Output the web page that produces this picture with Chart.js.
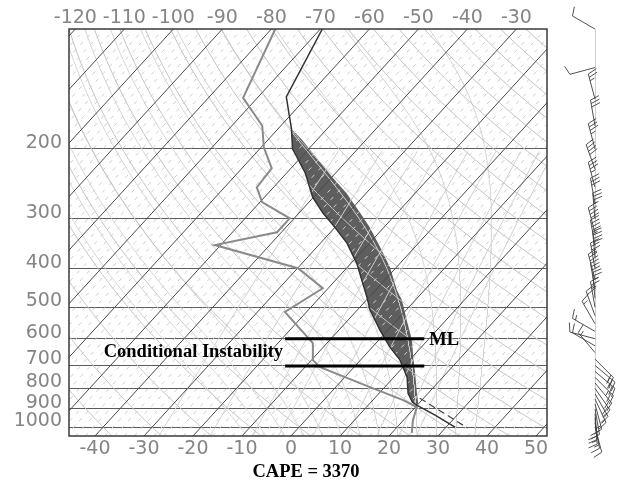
<!DOCTYPE html>
<html>
<head>
<meta charset="utf-8">
<title>Skew-T CAPE</title>
<script src="https://cdn.jsdelivr.net/npm/chart.js@4.4.1/dist/chart.umd.min.js"></script>
<style>
  body { margin: 0; background: #fff; }
  #box { width: 619px; height: 482px; }
</style>
</head>
<body>
<div id="box"><canvas id="skewt" width="619" height="482"></canvas></div>
<script>
// sounding (hPa, deg C)
const tempP = [100, 148, 178, 200, 230, 265, 290, 315, 345, 388, 428, 472, 508, 571, 630, 679, 749, 822, 865, 881, 933, 1000];
const tempT = [-69.6, -64.3, -57.3, -53.3, -46.2, -40.1, -35.1, -30.0, -24.6, -18.8, -14.6, -10.4, -7.4, -1.6, 3.6, 8.1, 12.7, 15.9, 18.4, 19.9, 25.5, 31.8];
const dewP = [100, 149, 175, 198, 224, 250, 272, 299, 324, 349, 399, 448, 514, 615, 679, 707, 794, 856, 891, 960, 1035];
const dewT = [-79.2, -72.9, -63.8, -59.5, -53.9, -53.4, -49.6, -40.9, -40.9, -51.2, -29.9, -21.1, -24.4, -12.9, -9.7, -6.9, 7.0, 16.2, 20.3, 21.9, 24.1];

// lifted parcel: moist part (EL -> LFC) and dry part (LCL -> surface)
const parcelP = [178, 190, 204, 216, 236, 259, 290, 315, 353, 397, 453, 480, 539, 605, 667, 732, 822, 870];
const parcelT = [-57.3, -53.0, -48.7, -45.2, -39.8, -33.9, -27.5, -22.9, -17.1, -11.3, -5.6, -2.7, 2.0, 6.8, 10.2, 13.6, 17.7, 19.8];
const parcelDryP = [846, 1006];
const parcelDryT = [19.2, 34.6];

// axis ticks
const pressTicks = [200, 300, 400, 500, 600, 700, 800, 900, 1000];
const bottomTicks = [-40, -30, -20, -10, 0, 10, 20, 30, 40, 50];
const topTicks = [-120, -110, -100, -90, -80, -70, -60, -50, -40, -30];

// background lines of the diagram
const isotherms = [-120, -110, -100, -90, -80, -70, -60, -50, -40, -30, -20, -10, 0, 10, 20, 30, 40, 50];
const dryAdiabats = [-40, -30, -20, -10, 0, 10, 20, 30, 40, 50, 60, 70, 80, 90, 100, 110, 120, 130, 140, 150, 160, 170, 180, 190, 200];
const moistAdiabats = [-12, -8, -4, 0, 4, 8, 12, 16, 20, 24, 28, 32, 36];
const mixRatios = [0.4, 1, 2, 3, 5, 8, 12, 16, 20];

// marked layer (hPa) and its horizontal extent on the bottom scale
const layerP = [600, 702];
const layerX = [-1.2, 27.2];

// winds: pressure, direction (deg), speed (kt)
const windP = [100, 125, 150, 175, 200, 225, 250, 275, 300, 325, 350, 375, 400, 425, 450, 475, 500, 525, 550, 575, 600, 625, 650, 675, 700, 725, 750, 775, 800, 825, 850, 875, 900, 925, 950, 975, 1000];
const windDir = [300, 255, 345, 350, 345, 340, 345, 350, 355, 345, 350, 355, 350, 345, 350, 355, 350, 340, 330, 300, 285, 300, 320, 135, 130, 130, 135, 140, 145, 150, 155, 165, 170, 175, 175, 170, 165];
const windSpd = [10, 10, 25, 30, 35, 40, 35, 30, 35, 40, 45, 40, 35, 30, 30, 25, 25, 20, 15, 15, 10, 10, 15, 20, 25, 25, 25, 20, 20, 15, 15, 15, 20, 20, 15, 15, 10];

const PTOP = 100, PBOT = 1053;
const SKEW = 76 / Math.log(PBOT / PTOP);
const XMIN = -45.3, XMAX = 52.24;

const skx = (t, p) => t + SKEW * Math.log(PBOT / p);
const toPts = (ts, ps) => ts.map((t, i) => ({x: skx(t, ps[i]), y: ps[i]}));

// sample levels for curved background lines
const levels = [];
for (let p = PBOT; p > PTOP; p -= 10) levels.push(p);
levels.push(PTOP);

function satMix(tc, p) {
  const es = 6.112 * Math.exp(17.67 * tc / (tc + 243.5));
  return 0.622 * es / (p - es);
}
function moistRate(tk, p) {
  const rs = satMix(tk - 273.15, p);
  return (287 * tk + 2.5e6 * rs) / (1005 + 2.5e6 * 2.5e6 * rs * 0.622 / (287 * tk * tk));
}
function moistLine(thw) {
  const up = [], down = [];
  let t = thw + 273.15, p = 1000;
  up.push({p, t});
  while (p > PTOP) {
    const pn = Math.max(p - 5, PTOP);
    const k1 = moistRate(t, p);
    const tm = t + k1 * Math.log(pn / p) / 2;
    const k2 = moistRate(tm, Math.sqrt(p * pn));
    t += k2 * Math.log(pn / p);
    p = pn;
    up.push({p, t});
  }
  t = thw + 273.15; p = 1000;
  while (p < PBOT) {
    const pn = Math.min(p + 5, PBOT);
    t += moistRate(t, p) * Math.log(pn / p);
    p = pn;
    down.unshift({p, t});
  }
  return down.concat(up).map(o => ({x: skx(o.t - 273.15, o.p), y: o.p}));
}

function bgLine(data, color, width, dash) {
  return {data, borderColor: color, borderWidth: width, borderDash: dash || [],
          pointRadius: 0, fill: false, tension: 0, order: 10};
}
const straight = t => [{x: skx(t, PBOT), y: PBOT}, {x: skx(t, PTOP), y: PTOP}];

const background = [];
isotherms.forEach(t => background.push(bgLine(straight(t), '#4a4a4a', 1)));
// thin dashed isotherms every 2 degrees between the solid ones
isotherms.slice(0, -1).forEach(t => [2, 4, 6, 8].forEach(k =>
  background.push(bgLine(straight(t + k), '#cdcdcd', 1, [4, 6]))));
dryAdiabats.forEach(th => background.push(bgLine(levels.map(p => ({x: skx((th + 273.15) * Math.pow(p / 1000, 0.2857) - 273.15, p), y: p})), '#c4c4c4', 1)));
moistAdiabats.forEach(tw => background.push(bgLine(moistLine(tw), '#d4d4d4', 1)));
mixRatios.forEach(w => background.push(bgLine(levels.filter(p => p >= 200).map(p => {
  const L = Math.log(w * p / (622 + w) / 6.112);
  return {x: skx(243.5 * L / (17.67 - L), p), y: p};
}), '#d0d0d0', 1)));

const capeShape = toPts(parcelT, parcelP).concat(toPts(tempT.slice(2, 20), tempP.slice(2, 20)).reverse());

const datasets = [
  {label: 'layer top', data: [{x: layerX[0], y: layerP[0]}, {x: layerX[1], y: layerP[0]}], borderColor: '#000', borderWidth: 3, pointRadius: 0, order: 0},
  {label: 'layer bottom', data: [{x: layerX[0], y: layerP[1]}, {x: layerX[1], y: layerP[1]}], borderColor: '#000', borderWidth: 3, pointRadius: 0, order: 0},
  {label: 'T', data: toPts(tempT, tempP), borderColor: '#333', borderWidth: 1.5, pointRadius: 0, order: 1},
  {label: 'Td', data: toPts(dewT, dewP), borderColor: '#8a8a8a', borderWidth: 2, pointRadius: 0, order: 1},
  {label: 'parcel dry', data: toPts(parcelDryT, parcelDryP), borderColor: '#444', borderWidth: 1.2, borderDash: [7, 4], pointRadius: 0, order: 1},
  {label: 'CAPE', data: capeShape, fill: 'shape', backgroundColor: '#5e5e5e', borderWidth: 0, pointRadius: 0, order: 2}
].concat(background);

function drawBarb(ctx, x, y, dir, spd) {
  const a = dir * Math.PI / 180;
  const ux = Math.sin(a), uy = -Math.cos(a);
  const rx = -uy, ry = ux;
  const len = 26;
  ctx.beginPath();
  ctx.moveTo(x, y);
  ctx.lineTo(x + ux * len, y + uy * len);
  let d = len, s = Math.round(spd / 5) * 5;
  while (s >= 50) {
    const bx = x + ux * d, by = y + uy * d;
    ctx.moveTo(bx, by);
    ctx.lineTo(bx + rx * 9 - ux * 2, by + ry * 9 - uy * 2);
    ctx.lineTo(bx - ux * 5, by - uy * 5);
    d -= 6; s -= 50;
  }
  while (s >= 10) {
    const bx = x + ux * d, by = y + uy * d;
    ctx.moveTo(bx, by);
    ctx.lineTo(bx + rx * 9 + ux * 3, by + ry * 9 + uy * 3);
    d -= 3.5; s -= 10;
  }
  if (s >= 5) {
    if (d === len) d -= 3.5;
    const bx = x + ux * d, by = y + uy * d;
    ctx.moveTo(bx, by);
    ctx.lineTo(bx + rx * 5 + ux * 1.5, by + ry * 5 + uy * 1.5);
  }
  ctx.stroke();
}

const decor = {
  id: 'decor',
  afterDatasetsDraw(chart) {
    const {ctx, chartArea: a, scales: {x, y}} = chart;
    ctx.save();
    ctx.strokeStyle = '#3a3a3a';
    ctx.lineWidth = 1.5;
    ctx.strokeRect(a.left, a.top, a.right - a.left, a.bottom - a.top);

    ctx.fillStyle = '#000';
    ctx.font = 'bold 18.5px "Liberation Serif", serif';
    ctx.textBaseline = 'middle';
    ctx.textAlign = 'left';
    ctx.fillText('ML', x.getPixelForValue(layerX[1]) + 5, y.getPixelForValue(layerP[0]) + 1);
    ctx.textAlign = 'right';
    ctx.fillText('Conditional Instability', x.getPixelForValue(layerX[0]) - 2,
      (y.getPixelForValue(layerP[0]) + y.getPixelForValue(layerP[1])) / 2);
    ctx.textAlign = 'center';
    ctx.fillText('CAPE = 3370', (a.left + a.right) / 2 - 2, 472);

    // wind barbs
    const sx = 595;
    ctx.strokeStyle = '#cfcfcf';
    ctx.lineWidth = 1;
    ctx.beginPath();
    ctx.moveTo(sx + 0.5, y.getPixelForValue(windP[0]));
    ctx.lineTo(sx + 0.5, y.getPixelForValue(windP[windP.length - 1]));
    ctx.stroke();
    ctx.strokeStyle = '#3d3d3d';
    ctx.lineWidth = 0.9;
    windP.forEach((p, i) => drawBarb(ctx, sx, y.getPixelForValue(p), windDir[i], windSpd[i]));
    ctx.restore();
  }
};

const tickFont = {family: '"DejaVu Sans", sans-serif', size: 19};
const tickColor = '#858585';

new Chart(document.getElementById('skewt'), {
  type: 'line',
  data: {datasets},
  options: {
    responsive: false,
    animation: false,
    events: [],
    devicePixelRatio: 1,
    layout: {padding: {left: 0, top: 0, right: 72, bottom: 0}},
    plugins: {
      legend: {display: false},
      tooltip: {enabled: false},
      filler: {drawTime: 'beforeDraw'}
    },
    scales: {
      x: {
        type: 'linear', position: 'bottom', min: XMIN, max: XMAX,
        afterBuildTicks: s => { s.ticks = bottomTicks.map(v => ({value: v})); },
        afterFit: s => { s.height = 46; s.paddingLeft = 0; s.paddingRight = 0; },
        grid: {display: false, drawTicks: false},
        border: {display: false},
        ticks: {font: tickFont, color: tickColor, padding: 2, autoSkip: false, maxRotation: 0, minRotation: 0,
                callback: v => String(v)}
      },
      xTop: {
        type: 'linear', position: 'top', min: XMIN - 76, max: XMAX - 76,
        afterBuildTicks: s => { s.ticks = topTicks.map(v => ({value: v})); },
        afterFit: s => { s.height = 29; s.paddingLeft = 0; s.paddingRight = 0; },
        grid: {display: false, drawTicks: false},
        border: {display: false},
        ticks: {font: tickFont, color: tickColor, padding: 0, autoSkip: false, maxRotation: 0, minRotation: 0,
                callback: v => String(v)}
      },
      y: {
        type: 'logarithmic', position: 'left', reverse: true, min: PTOP, max: PBOT,
        afterBuildTicks: s => { s.ticks = pressTicks.map(v => ({value: v})); },
        afterFit: s => { s.width = 69; s.paddingTop = 0; s.paddingBottom = 0; },
        grid: {color: '#5c5c5c', lineWidth: 1, drawTicks: false},
        border: {display: false},
        ticks: {font: tickFont, color: tickColor, padding: 7, labelOffset: -6, autoSkip: false,
                callback: v => String(v)}
      }
    }
  },
  plugins: [decor]
});
</script>
</body>
</html>
